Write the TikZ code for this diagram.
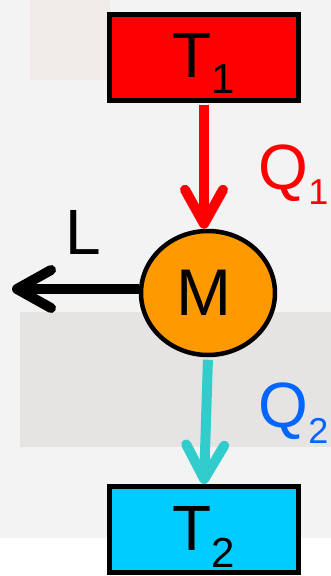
\documentclass[tikz,border=0pt]{standalone}
\usepackage{fontspec}
\setmainfont{Liberation Sans}
\usetikzlibrary{arrows.meta,shapes.geometric}
\definecolor{bggray}{HTML}{F3F3F3}
\definecolor{bandgray}{HTML}{E6E3E3}
\definecolor{blush}{HTML}{F1EBEA}
\definecolor{hotred}{HTML}{FF0000}
\definecolor{morange}{HTML}{FF9900}
\definecolor{skyc}{HTML}{00CCFF}
\definecolor{turq}{HTML}{33CCCC}
\definecolor{qblue}{HTML}{0066FF}
\tikzset{
  resbox/.style={draw=black, line width=5pt, minimum width=189pt, minimum height=86pt, inner sep=0pt},
  flowarrow/.style={line width=10pt, -{Straight Barb[length=34pt, width=38pt, line cap=round, line join=round]}},
  bigtxt/.style={inner sep=0pt, font=\fontsize{64}{64}\selectfont},
}
\begin{document}
\begin{tikzpicture}[x=1pt,y=-1pt]
\useasboundingbox (0,0) rectangle (331,576);
\fill[white] (0,0) rectangle (331,576);
\fill[bggray] (0,0) rectangle (331,538);
\fill[blush] (30,0) rectangle (110,80);
\fill[bandgray] (20,312) rectangle (331,447);

\node[resbox, fill=hotred] (t1) at (204,57) {};
\node[resbox, fill=skyc] (t2) at (204,529.5) {};
\node[ellipse, draw=black, line width=4.5pt, fill=morange, minimum width=134pt, minimum height=124pt, inner sep=0pt] (m) at (208,293) {};

\coordinate (lend) at (12,289);
\draw[flowarrow, hotred, shorten <=2.5pt] (t1.south) -- (t1.south |- m.north);
\draw[flowarrow, turq, shorten <=2.5pt] (m.south) -- (t2.north);
\draw[flowarrow, black] (lend -| m.west) -- (lend);

\node[bigtxt, anchor=base west] (t1lbl) at (172.5,77) {T\raisebox{-16pt}{\fontsize{42}{42}\selectfont 1}};
\node[bigtxt, anchor=base west] (t2lbl) at (172.5,550) {T\raisebox{-17pt}{\fontsize{42}{42}\selectfont 2}};
\node[inner sep=0pt, font=\fontsize{66}{66}\selectfont, anchor=base] (mlbl) at (203.5,315) {M};
\node[bigtxt, anchor=base west] (llbl) at (65.3,254) {L};
\node[bigtxt, anchor=base west, text=hotred] (q1lbl) at (258.4,189) {Q\raisebox{-15pt}{\fontsize{36}{36}\selectfont 1}};
\node[bigtxt, anchor=base west, text=qblue] (q2lbl) at (258.4,427) {Q\raisebox{-16pt}{\fontsize{36}{36}\selectfont 2}};
\end{tikzpicture}
\end{document}
